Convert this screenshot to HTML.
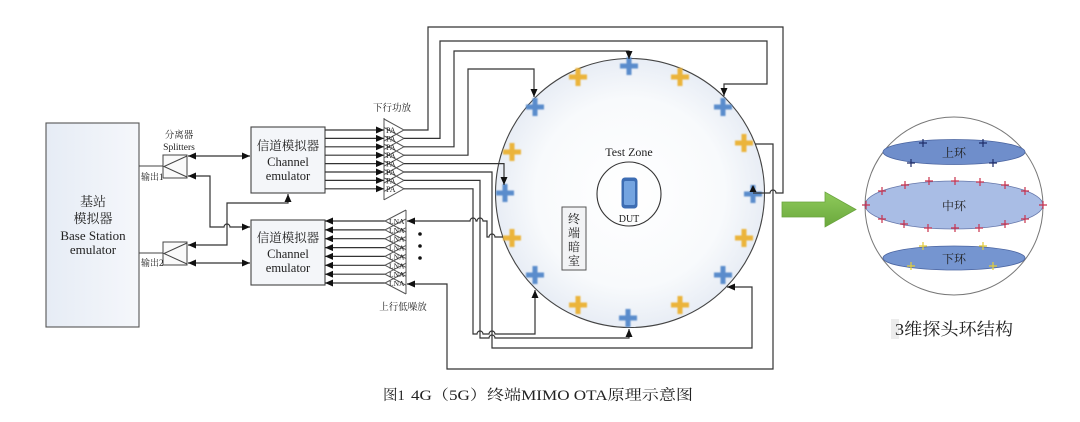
<!DOCTYPE html>
<html>
<head>
<meta charset="utf-8">
<style>
html,body{margin:0;padding:0;background:#fff;width:1080px;height:422px;overflow:hidden}
svg{display:block}
text{font-family:"Liberation Serif","Noto Serif CJK SC",serif;fill:#222}
</style>
</head>
<body>
<svg width="1080" height="422" viewBox="0 0 1080 422" xmlns="http://www.w3.org/2000/svg" font-family="'Liberation Serif','Noto Serif CJK SC',serif">
<defs>
  <marker id="ah" markerWidth="8" markerHeight="7" refX="8" refY="3.5" orient="auto-start-reverse" markerUnits="userSpaceOnUse">
    <path d="M0,0 L8,3.5 L0,7 z" fill="#111"/>
  </marker>
  <radialGradient id="cg" cx="0.5" cy="0.5" r="0.5">
    <stop offset="0" stop-color="#ffffff"/>
    <stop offset="0.7" stop-color="#f8fafc"/>
    <stop offset="1" stop-color="#e8edf5"/>
  </radialGradient>
  <linearGradient id="bsg" x1="0" y1="0" x2="1" y2="0">
    <stop offset="0" stop-color="#e6ecf5"/>
    <stop offset="1" stop-color="#f5f7fb"/>
  </linearGradient>
  <linearGradient id="gg" x1="0" y1="0" x2="0" y2="1">
    <stop offset="0" stop-color="#8fcb5c"/>
    <stop offset="1" stop-color="#6aa83c"/>
  </linearGradient>
  <filter id="bl" x="-30%" y="-30%" width="160%" height="160%"><feGaussianBlur stdDeviation="0.7"/></filter>
</defs>

<!-- Main circle -->
<circle cx="630" cy="193" r="134.5" fill="url(#cg)" stroke="#444" stroke-width="1.1"/>
<circle cx="629" cy="194" r="32" fill="none" stroke="#333" stroke-width="1.1"/>
<text x="629" y="156" font-size="12" text-anchor="middle">Test Zone</text>
<rect x="621.5" y="177.5" width="16" height="31" rx="3.5" fill="#3d6db3"/>
<rect x="624" y="181" width="11" height="24" rx="1.5" fill="#74a4e0"/>
<text x="629" y="222" font-size="10" text-anchor="middle">DUT</text>
<rect x="562" y="207" width="24" height="63" fill="#f2f3f5" stroke="#555" stroke-width="1"/>
<g font-size="12" text-anchor="middle">
<text x="574" y="223">终</text><text x="574" y="237">端</text><text x="574" y="251">暗</text><text x="574" y="265">室</text>
</g>

<!-- crosses -->
<g filter="url(#bl)">
<g fill="#5a8ccc">
<g transform="translate(629,66)"><rect x="-9" y="-2.5" width="18" height="5"/><rect x="-2.5" y="-9" width="5" height="18"/></g>
<g transform="translate(535,107)"><rect x="-9" y="-2.5" width="18" height="5"/><rect x="-2.5" y="-9" width="5" height="18"/></g>
<g transform="translate(723,107)"><rect x="-9" y="-2.5" width="18" height="5"/><rect x="-2.5" y="-9" width="5" height="18"/></g>
<g transform="translate(505,193)"><rect x="-9" y="-2.5" width="18" height="5"/><rect x="-2.5" y="-9" width="5" height="18"/></g>
<g transform="translate(753,194)"><rect x="-9" y="-2.5" width="18" height="5"/><rect x="-2.5" y="-9" width="5" height="18"/></g>
<g transform="translate(535,275)"><rect x="-9" y="-2.5" width="18" height="5"/><rect x="-2.5" y="-9" width="5" height="18"/></g>
<g transform="translate(723,275)"><rect x="-9" y="-2.5" width="18" height="5"/><rect x="-2.5" y="-9" width="5" height="18"/></g>
<g transform="translate(628,318)"><rect x="-9" y="-2.5" width="18" height="5"/><rect x="-2.5" y="-9" width="5" height="18"/></g>
</g>
<g fill="#ebb43a">
<g transform="translate(578,77)"><rect x="-9" y="-2.5" width="18" height="5"/><rect x="-2.5" y="-9" width="5" height="18"/></g>
<g transform="translate(680,77)"><rect x="-9" y="-2.5" width="18" height="5"/><rect x="-2.5" y="-9" width="5" height="18"/></g>
<g transform="translate(512,152)"><rect x="-9" y="-2.5" width="18" height="5"/><rect x="-2.5" y="-9" width="5" height="18"/></g>
<g transform="translate(744,143)"><rect x="-9" y="-2.5" width="18" height="5"/><rect x="-2.5" y="-9" width="5" height="18"/></g>
<g transform="translate(512,238)"><rect x="-9" y="-2.5" width="18" height="5"/><rect x="-2.5" y="-9" width="5" height="18"/></g>
<g transform="translate(744,238)"><rect x="-9" y="-2.5" width="18" height="5"/><rect x="-2.5" y="-9" width="5" height="18"/></g>
<g transform="translate(578,305)"><rect x="-9" y="-2.5" width="18" height="5"/><rect x="-2.5" y="-9" width="5" height="18"/></g>
<g transform="translate(680,305)"><rect x="-9" y="-2.5" width="18" height="5"/><rect x="-2.5" y="-9" width="5" height="18"/></g>
</g>
</g>

<!-- Base station -->
<rect x="46" y="123" width="93" height="204" fill="url(#bsg)" stroke="#555" stroke-width="1.1"/>
<g font-size="13" text-anchor="middle">
<text x="93" y="206">基站</text>
<text x="93" y="223">模拟器</text>
<text x="93" y="240">Base Station</text>
<text x="93" y="254">emulator</text>
</g>

<!-- splitters -->
<g stroke="#444" stroke-width="1" fill="none">
<rect x="163" y="155" width="24" height="23" fill="#fafafa"/>
<path d="M187,156 L164,166.5 L187,177"/>
<rect x="163" y="242" width="24" height="23" fill="#fafafa"/>
<path d="M187,243 L164,253.5 L187,264"/>
<path d="M139,166 H163"/>
<path d="M139,253 H163"/>
</g>
<text x="179" y="138" font-size="9.5" text-anchor="middle">分离器</text>
<text x="179" y="150" font-size="9.5" text-anchor="middle">Splitters</text>
<text x="141" y="180" font-size="9">输出1</text>
<text x="141" y="266" font-size="9">输出2</text>

<!-- channel emulators -->
<rect x="251" y="127" width="74" height="66" fill="#f4f6f9" stroke="#444" stroke-width="1.1"/>
<rect x="251" y="220" width="74" height="65" fill="#f4f6f9" stroke="#444" stroke-width="1.1"/>
<g font-size="12.5" text-anchor="middle">
<text x="288" y="150">信道模拟器</text>
<text x="288" y="166">Channel</text>
<text x="288" y="180">emulator</text>
<text x="288" y="242">信道模拟器</text>
<text x="288" y="258">Channel</text>
<text x="288" y="272">emulator</text>
</g>

<!-- left connections -->
<g stroke="#333" stroke-width="1.2" fill="none">
<path d="M188,156 H250" marker-start="url(#ah)" marker-end="url(#ah)"/>
<path d="M188,176 H210 V227 H224 a3,3 0 0 1 6,0 H250" marker-start="url(#ah)" marker-end="url(#ah)"/>
<path d="M188,245 H227 V203 H288 V194" marker-start="url(#ah)" marker-end="url(#ah)"/>
<path d="M188,263 H250" marker-start="url(#ah)" marker-end="url(#ah)"/>

<!-- CE1 -> PA -->
<path d="M325,130 H384" marker-end="url(#ah)"/>
<path d="M325,138.4 H384" marker-end="url(#ah)"/>
<path d="M325,146.8 H384" marker-end="url(#ah)"/>
<path d="M325,155.2 H384" marker-end="url(#ah)"/>
<path d="M325,163.6 H384" marker-end="url(#ah)"/>
<path d="M325,172 H384" marker-end="url(#ah)"/>
<path d="M325,180.4 H384" marker-end="url(#ah)"/>
<path d="M325,188.8 H384" marker-end="url(#ah)"/>

<!-- LNA -> CE2 -->
<path d="M385,221 H325" marker-end="url(#ah)"/>
<path d="M385,229.9 H325" marker-end="url(#ah)"/>
<path d="M385,238.7 H325" marker-end="url(#ah)"/>
<path d="M385,247.6 H325" marker-end="url(#ah)"/>
<path d="M385,256.4 H325" marker-end="url(#ah)"/>
<path d="M385,265.3 H325" marker-end="url(#ah)"/>
<path d="M385,274.2 H325" marker-end="url(#ah)"/>
<path d="M385,283 H325" marker-end="url(#ah)"/>
</g>

<!-- PA block -->
<g stroke="#555" stroke-width="1" fill="none">
<path d="M384,118 V200"/>
<path d="M384,119 L404,130 L384,141"/>
<path d="M384,127.4 L404,138.4 L384,149.4"/>
<path d="M384,135.8 L404,146.8 L384,157.8"/>
<path d="M384,144.2 L404,155.2 L384,166.2"/>
<path d="M384,152.6 L404,163.6 L384,174.6"/>
<path d="M384,161 L404,172 L384,183"/>
<path d="M384,169.4 L404,180.4 L384,191.4"/>
<path d="M384,177.8 L404,188.8 L384,199.8"/>
</g>
<g font-size="8">
<text x="386" y="133">PA</text><text x="386" y="141.4">PA</text><text x="386" y="149.8">PA</text><text x="386" y="158.2">PA</text>
<text x="386" y="166.6">PA</text><text x="386" y="175">PA</text><text x="386" y="183.4">PA</text><text x="386" y="191.8">PA</text>
</g>
<text x="392" y="111" font-size="9.5" text-anchor="middle">下行功放</text>

<!-- LNA block -->
<g stroke="#555" stroke-width="1" fill="none">
<path d="M406,210 V294"/>
<path d="M406,210 L385,221 L406,232"/>
<path d="M406,218.9 L385,229.9 L406,240.9"/>
<path d="M406,227.7 L385,238.7 L406,249.7"/>
<path d="M406,236.6 L385,247.6 L406,258.6"/>
<path d="M406,245.4 L385,256.4 L406,267.4"/>
<path d="M406,254.3 L385,265.3 L406,276.3"/>
<path d="M406,263.2 L385,274.2 L406,285.2"/>
<path d="M406,272 L385,283 L406,294"/>
</g>
<g font-size="7.5">
<text x="389" y="224">LNA</text><text x="389" y="232.9">LNA</text><text x="389" y="241.7">LNA</text><text x="389" y="250.6">LNA</text>
<text x="389" y="259.4">LNA</text><text x="389" y="268.3">LNA</text><text x="389" y="277.2">LNA</text><text x="389" y="286">LNA</text>
</g>
<circle cx="420" cy="234" r="1.8" fill="#111"/>
<circle cx="420" cy="246" r="1.8" fill="#111"/>
<circle cx="420" cy="258" r="1.8" fill="#111"/>
<text x="403" y="310" font-size="9.5" text-anchor="middle">上行低噪放</text>

<!-- routing PA -> antennas -->
<g stroke="#333" stroke-width="1.2" fill="none">
<path d="M404,130 H428 V27 H783 V193 H776 a3,3 0 0 0 -6,0 H753"/>
<path d="M404,138.4 H440 V41 H767 V84 H724 V96" marker-end="url(#ah)"/>
<path d="M404,146.8 H454 V51 H629 V59" marker-end="url(#ah)"/>
<path d="M404,155.2 H468 V69 H534 V97" marker-end="url(#ah)"/>
<path d="M404,163.6 H504 V185" marker-end="url(#ah)"/>
<path d="M404,172 H492 V348 H752 V287 H727" marker-end="url(#ah)"/>
<path d="M404,180.4 H480 V338 H489 a3,3 0 0 1 6,0 H629 V329" marker-end="url(#ah)"/>
<path d="M404,188.8 H473 V334 H477 a3,3 0 0 1 6,0 H489 a3,3 0 0 1 6,0 H535 V290" marker-end="url(#ah)"/>
<!-- antenna -> LNA -->
<path d="M503,237 H495 a3,3 0 0 0 -6,0 H487 V221 H483 a3,3 0 0 0 -6,0 H476 a3,3 0 0 0 -6,0 H407" marker-end="url(#ah)"/>
<path d="M755,144 H773 V369 H447 V284 H407" marker-end="url(#ah)"/>
</g>
<path d="M753,185 L749.5,192 L756.5,192 z" fill="#111"/>

<!-- green arrow -->
<path d="M782,202 H825 V192 L856,209.5 L825,227 V217 H782 z" fill="url(#gg)" stroke="#6aa43e" stroke-width="0.8"/>

<!-- sphere -->
<circle cx="954" cy="206" r="89" fill="#fff" stroke="#777" stroke-width="1"/>
<ellipse cx="954" cy="152" rx="71" ry="12.5" fill="#6f8ecb" stroke="#4a64a0" stroke-width="0.8"/>
<ellipse cx="954" cy="205" rx="89" ry="24" fill="#a9bde5" stroke="#6677aa" stroke-width="0.8"/>
<ellipse cx="954" cy="258" rx="71" ry="12" fill="#7595d0" stroke="#4a64a0" stroke-width="0.8"/>
<g font-size="12" text-anchor="middle">
<text x="954" y="157" fill="#1f2a4a">上环</text>
<text x="954" y="210" fill="#1f2a4a">中环</text>
<text x="954" y="263" fill="#1f2a4a">下环</text>
</g>
<g stroke="#1f2d6a" stroke-width="1.2">
<path d="M919,143 h8 M923,139 v8"/>
<path d="M979,143 h8 M983,139 v8"/>
<path d="M907,163 h8 M911,159 v8"/>
<path d="M989,163 h8 M993,159 v8"/>
</g>
<g stroke="#c8324e" stroke-width="1.2">
<path d="M862,205 h8 M866,201 v8"/>
<path d="M878,191 h8 M882,187 v8"/>
<path d="M901,185 h8 M905,181 v8"/>
<path d="M925,181 h8 M929,177 v8"/>
<path d="M951,181 h8 M955,177 v8"/>
<path d="M976,182 h8 M980,178 v8"/>
<path d="M1001,185 h8 M1005,181 v8"/>
<path d="M1021,191 h8 M1025,187 v8"/>
<path d="M1039,205 h8 M1043,201 v8"/>
<path d="M878,219 h8 M882,215 v8"/>
<path d="M900,224 h8 M904,220 v8"/>
<path d="M924,228 h8 M928,224 v8"/>
<path d="M951,228 h8 M955,224 v8"/>
<path d="M975,228 h8 M979,224 v8"/>
<path d="M1001,224 h8 M1005,220 v8"/>
<path d="M1021,219 h8 M1025,215 v8"/>
</g>
<g stroke="#e2cc3a" stroke-width="1.2">
<path d="M919,246 h8 M923,242 v8"/>
<path d="M979,246 h8 M983,242 v8"/>
<path d="M907,266 h8 M911,262 v8"/>
<path d="M989,266 h8 M993,262 v8"/>
</g>
<rect x="891" y="319" width="8" height="20" fill="#ececec"/>
<text x="895" y="335" font-size="17" textLength="118" lengthAdjust="spacingAndGlyphs">3维探头环结构</text>

<!-- caption -->
<text x="383" y="400" font-size="14.5">图1</text>
<text x="411" y="400" font-size="14.5" textLength="282" lengthAdjust="spacingAndGlyphs">4G（5G）终端MIMO OTA原理示意图</text>
</svg>
</body>
</html>
